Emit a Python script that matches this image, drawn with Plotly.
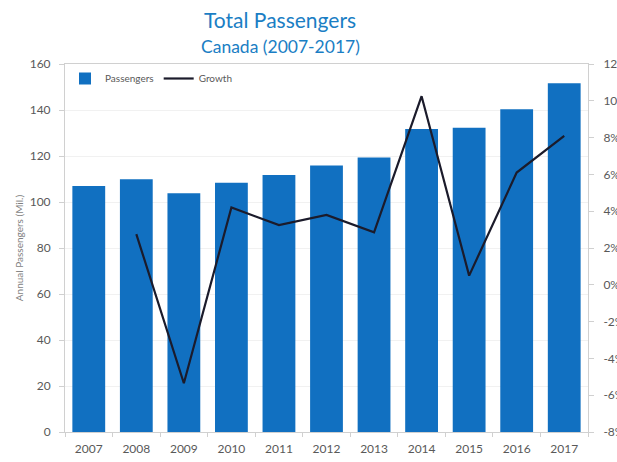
import plotly.graph_objects as go

years = ["2007", "2008", "2009", "2010", "2011", "2012", "2013", "2014", "2015", "2016", "2017"]
passengers = [107.0, 109.9, 103.8, 108.4, 111.7, 115.9, 119.3, 131.7, 132.3, 140.3, 151.6]
growth_years = years[1:]
growth = [2.75, -5.35, 4.2, 3.25, 3.8, 2.85, 10.25, 0.5, 6.1, 8.1]
growth_ticks = [-8, -6, -4, -2, 0, 2, 4, 6, 8, 10, 12]

BLUE = "#1170c1"
TEXT = "#595959"
FONT = "Lato"

fig = go.Figure()
fig.add_trace(go.Bar(x=years, y=passengers, name="Passengers", marker=dict(color=BLUE, line=dict(width=0))))
fig.add_trace(go.Scatter(x=growth_years, y=growth, name="Growth", mode="lines",
                         line=dict(color="#1b1b2b", width=2.2), yaxis="y2"))

fig.update_layout(
    width=617, height=462,
    margin=dict(l=65, r=29, t=64, b=30),
    paper_bgcolor="white", plot_bgcolor="white",
    font=dict(family=FONT, color=TEXT, size=12),
    bargap=0.31,
    showlegend=True,
    legend=dict(orientation="h", x=0.0, y=1.0, xanchor="left", yanchor="top",
                font=dict(size=10, color=TEXT), bgcolor="rgba(0,0,0,0)",
                itemwidth=30, tracegroupgap=0),
    xaxis=dict(type="category", showline=True, linecolor="#d0d0d0", linewidth=1,
               ticks="outside", ticklen=4, tickcolor="#d0d0d0", tickson="boundaries",
               ticklabelstandoff=6, automargin=False,
               tickfont=dict(size=12, color=TEXT), mirror=True, showgrid=False),
    yaxis=dict(range=[0, 160], dtick=20, showline=True, linecolor="#d0d0d0",
               ticks="outside", ticklen=5, tickcolor="#d0d0d0", ticklabelstandoff=6,
               gridcolor="#f1f1f1", tickfont=dict(size=12, color=TEXT), automargin=False,
               title=dict(text="Annual Passengers (Mil.)", font=dict(size=10, color="#7f7f7f"), standoff=4),
               zeroline=False),
    yaxis2=dict(range=[-8, 12], overlaying="y", side="right",
                tickmode="array", tickvals=growth_ticks,
                ticktext=[f"{v}%" for v in growth_ticks],
                showline=True, linecolor="#d0d0d0", ticks="outside", ticklen=5,
                tickcolor="#d0d0d0", ticklabelstandoff=7, showgrid=False, zeroline=False,
                automargin=False, tickfont=dict(size=12, color=TEXT)),
)

# Two-line heading positioned in pixel terms relative to the plot area
plot_w = 617 - 65 - 29
plot_h = 462 - 64 - 30
for text, size, ypx in [("Total Passengers", 21, 20), ("Canada (2007-2017)", 17.5, 47)]:
    fig.add_annotation(text=text, showarrow=False, xref="paper", yref="paper",
                       x=(280 - 65) / plot_w, y=(462 - 30 - ypx) / plot_h,
                       xanchor="center", yanchor="middle",
                       font=dict(size=size, color="#1a7ec4", family=FONT))

fig.write_html("out.html")
